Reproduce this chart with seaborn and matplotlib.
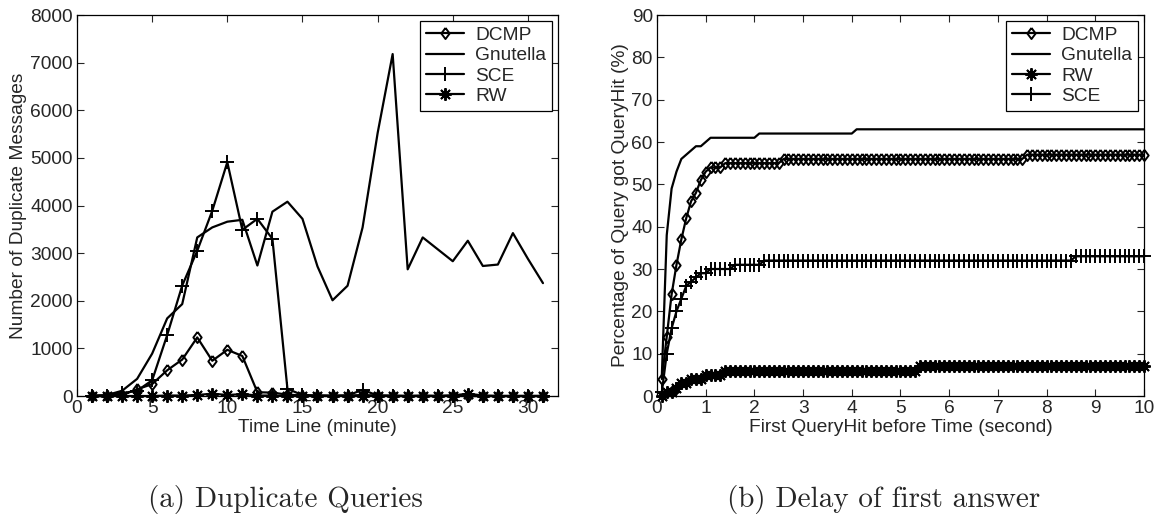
import numpy as np
import pandas as pd
import seaborn as sns
import matplotlib
matplotlib.use("Agg")
import matplotlib.pyplot as plt

# ---------------------------
# Data (a) duplicate queries per minute
# ---------------------------
minutes = list(range(1, 32))
dup_dcmp = [0, 0, 20, 140, 250, 540, 765, 1230, 740, 970,
            840, 80, 70, 30, 10, 10, 0, 10, 20, 10,
            0, 0, 10, 0, 10, 0, 0, 0, 0, 0, 0]
dup_gnutella = [10, 20, 110, 360, 890, 1630, 1930, 3330, 3540, 3660,
                3700, 2740, 3870, 4080, 3720, 2720, 2010, 2315, 3540, 5520,
                7180, 2660, 3330, 3080, 2830, 3260, 2730, 2760, 3420, 2880, 2370]
dup_sce = [0, 0, 60, 110, 330, 1280, 2320, 3050, 3890, 4910,
           3490, 3720, 3300, 150, 20, 10, 10, 10, 130, 10,
           10, 0, 0, 0, 0, 0, 0, 0, 0, 0, 0]
dup_rw = [0, 0, 0, 0, 0, 10, 10, 20, 50, 20,
          40, 10, 10, 0, 0, 0, 0, 0, 0, 0,
          0, 0, 0, 0, 10, 50, 10, 0, 0, 0, 0]

# ---------------------------
# Data (b) cumulative % of queries answered, sampled every 0.1 s
# ---------------------------
delay_t = np.round(np.arange(1, 101) / 10, 1)
hit_dcmp = [4, 14, 24, 31, 37, 42, 46, 48, 51, 53,
            54, 54, 54, 55, 55, 55, 55, 55, 55, 55,
            55, 55, 55, 55, 55, 56, 56, 56, 56, 56,
            56, 56, 56, 56, 56, 56, 56, 56, 56, 56,
            56, 56, 56, 56, 56, 56, 56, 56, 56, 56,
            56, 56, 56, 56, 56, 56, 56, 56, 56, 56,
            56, 56, 56, 56, 56, 56, 56, 56, 56, 56,
            56, 56, 56, 56, 56, 57, 57, 57, 57, 57,
            57, 57, 57, 57, 57, 57, 57, 57, 57, 57,
            57, 57, 57, 57, 57, 57, 57, 57, 57, 57]
hit_gnutella = [5, 38, 49, 53, 56, 57, 58, 59, 59, 60,
                61, 61, 61, 61, 61, 61, 61, 61, 61, 61,
                62, 62, 62, 62, 62, 62, 62, 62, 62, 62,
                62, 62, 62, 62, 62, 62, 62, 62, 62, 62,
                63, 63, 63, 63, 63, 63, 63, 63, 63, 63,
                63, 63, 63, 63, 63, 63, 63, 63, 63, 63,
                63, 63, 63, 63, 63, 63, 63, 63, 63, 63,
                63, 63, 63, 63, 63, 63, 63, 63, 63, 63,
                63, 63, 63, 63, 63, 63, 63, 63, 63, 63,
                63, 63, 63, 63, 63, 63, 63, 63, 63, 63]
hit_sce = [1, 10, 16, 20, 23, 26, 27, 28, 29, 29,
           30, 30, 30, 30, 30, 31, 31, 31, 31, 31,
           31, 32, 32, 32, 32, 32, 32, 32, 32, 32,
           32, 32, 32, 32, 32, 32, 32, 32, 32, 32,
           32, 32, 32, 32, 32, 32, 32, 32, 32, 32,
           32, 32, 32, 32, 32, 32, 32, 32, 32, 32,
           32, 32, 32, 32, 32, 32, 32, 32, 32, 32,
           32, 32, 32, 32, 32, 32, 32, 32, 32, 32,
           32, 32, 32, 32, 32, 33, 33, 33, 33, 33,
           33, 33, 33, 33, 33, 33, 33, 33, 33, 33]
hit_rw = [0, 1, 1, 2, 3, 3, 4, 4, 4, 5,
          5, 5, 5, 6, 6, 6, 6, 6, 6, 6,
          6, 6, 6, 6, 6, 6, 6, 6, 6, 6,
          6, 6, 6, 6, 6, 6, 6, 6, 6, 6,
          6, 6, 6, 6, 6, 6, 6, 6, 6, 6,
          6, 6, 6, 7, 7, 7, 7, 7, 7, 7,
          7, 7, 7, 7, 7, 7, 7, 7, 7, 7,
          7, 7, 7, 7, 7, 7, 7, 7, 7, 7,
          7, 7, 7, 7, 7, 7, 7, 7, 7, 7,
          7, 7, 7, 7, 7, 7, 7, 7, 7, 7]

# ---------------------------
# Style
# ---------------------------
sns.set_style("ticks")
plt.rcParams["font.family"] = ["Liberation Sans", "DejaVu Sans"]
plt.rcParams["xtick.direction"] = "in"
plt.rcParams["ytick.direction"] = "in"
plt.rcParams["xtick.top"] = True
plt.rcParams["ytick.right"] = True

FS = 13.8
ASTER = (8, 2, 0)
DIAMOND = [(0, 1), (0.75, 0), (0, -1), (-0.75, 0), (0, 1)]   # matlab-ish diamond
styles = {
    "DCMP": dict(marker=DIAMOND, markersize=8, markerfacecolor="none"),
    "Gnutella": dict(marker=None),
    "SCE": dict(marker="+", markersize=10),
    "RW": dict(marker=ASTER, markersize=9),
}

fig = plt.figure(figsize=(11.64, 5.17), dpi=100)
ax1 = fig.add_axes([0.06615, 0.23404, 0.41323, 0.73694])
ax2 = fig.add_axes([0.56443, 0.23404, 0.41838, 0.73694])


def draw(ax, x, y, name):
    sns.lineplot(x=x, y=y, ax=ax, color="k", linewidth=1.6, label=name,
                 markeredgecolor="k", markeredgewidth=1.4, clip_on=False,
                 **styles[name])


# (a)
draw(ax1, minutes, dup_dcmp, "DCMP")
draw(ax1, minutes, dup_gnutella, "Gnutella")
draw(ax1, minutes, dup_sce, "SCE")
draw(ax1, minutes, dup_rw, "RW")
ax1.set_xlim(0, 32)
ax1.set_ylim(0, 8000)
ax1.set_xticks(range(0, 31, 5))
ax1.set_yticks(range(0, 8001, 1000))
ax1.set_xlabel("Time Line (minute)", fontsize=FS, labelpad=1)
ax1.set_ylabel("Number of Duplicate Messages", fontsize=FS, labelpad=2)

# (b)
draw(ax2, delay_t, hit_dcmp, "DCMP")
draw(ax2, delay_t, hit_gnutella, "Gnutella")
draw(ax2, delay_t, hit_rw, "RW")
draw(ax2, delay_t, hit_sce, "SCE")
ax2.set_xlim(0, 10)
ax2.set_ylim(0, 90)
ax2.set_xticks(range(0, 11))
ax2.set_yticks(range(0, 91, 10))
ax2.set_xlabel("First QueryHit before Time (second)", fontsize=FS, labelpad=1)
ax2.set_ylabel("Percentage of Query got QueryHit (%)", fontsize=FS, labelpad=2)

for ax in (ax1, ax2):
    ax.tick_params(labelsize=FS, length=5, width=0.8, pad=3)
    for s in ax.spines.values():
        s.set_visible(True)
        s.set_color("k")
        s.set_linewidth(0.9)
    leg = ax.legend(loc="upper right", fontsize=FS, frameon=True, fancybox=False,
                    framealpha=1, edgecolor="k", borderaxespad=0.3,
                    labelspacing=0.15, handlelength=2.0, borderpad=0.3,
                    handletextpad=0.6)
    leg.get_frame().set_linewidth(0.9)

fig.text(285 / 1164, 1 - 500 / 517, "(a) Duplicate Queries", family="cmr10",
         fontsize=21, ha="center", va="center")
fig.text(884 / 1164, 1 - 500 / 517, "(b) Delay of first answer", family="cmr10",
         fontsize=21, ha="center", va="center")

fig.savefig("out.png", dpi=100)
